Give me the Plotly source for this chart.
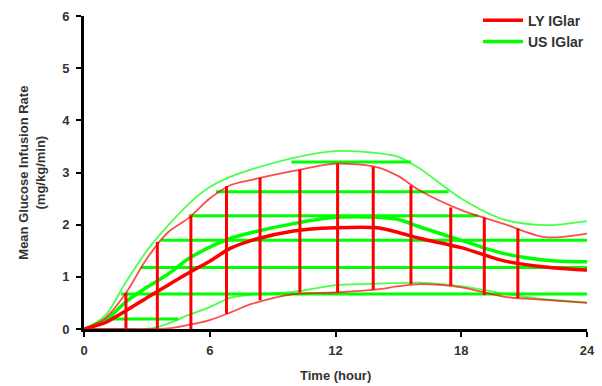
import plotly.graph_objects as go

# ---- data (hours, mg/kg/min) ----
times = [0, 1, 2, 3, 4, 5, 6, 7, 8, 10, 12, 14, 15, 16, 18, 20, 22, 24]

ly_mean  = [0, 0.12, 0.35, 0.60, 0.84, 1.08, 1.30, 1.55, 1.70, 1.88, 1.94, 1.94, 1.85, 1.74, 1.56, 1.31, 1.19, 1.13]
ly_upper = [0, 0.20, 0.69, 1.35, 1.85, 2.13, 2.50, 2.76, 2.86, 3.03, 3.17, 3.10, 2.93, 2.66, 2.28, 2.02, 1.76, 1.83]
ly_lower = [0, 0.00, 0.00, 0.00, 0.01, 0.08, 0.17, 0.32, 0.48, 0.67, 0.70, 0.76, 0.82, 0.86, 0.80, 0.62, 0.56, 0.50]

us_mean  = [0, 0.16, 0.52, 0.80, 1.05, 1.35, 1.57, 1.74, 1.85, 2.02, 2.14, 2.14, 2.10, 1.96, 1.70, 1.45, 1.32, 1.29]
us_upper = [0, 0.25, 0.90, 1.50, 1.98, 2.40, 2.72, 2.92, 3.06, 3.28, 3.41, 3.37, 3.30, 3.08, 2.50, 2.10, 1.99, 2.07]
us_lower = [0, 0.00, 0.00, 0.00, 0.10, 0.27, 0.42, 0.60, 0.66, 0.71, 0.84, 0.87, 0.88, 0.89, 0.82, 0.68, 0.57, 0.51]

# red vertical hatch lines (LY IGlar band)
ly_hatch_t  = [2.0, 3.5, 5.1, 6.8, 8.4, 10.3, 12.1, 13.8, 15.6, 17.5, 19.1, 20.7]
ly_hatch_lo = [0, 0, 0, 0.29, 0.55, 0.70, 0.70, 0.75, 0.86, 0.83, 0.65, 0.59]
ly_hatch_hi = [0.69, 1.67, 2.17, 2.74, 2.90, 3.06, 3.17, 3.11, 2.75, 2.33, 2.14, 1.93]

# green horizontal hatch lines (US IGlar band)
us_hatch_y     = [0.19, 0.67, 1.18, 1.70, 2.17, 2.63, 3.20]
us_hatch_start = [1.1, 1.77, 2.7, 3.7, 5.0, 6.3, 9.9]
us_hatch_end   = [4.5, 24, 24, 24, 18.8, 17.4, 15.6]

x_ticks = [0, 6, 12, 18, 24]
y_ticks = [0, 1, 2, 3, 4, 5, 6]

RED = "#FF0000"
GREEN = "#00FF00"
FONT = "Arial, Liberation Sans, sans-serif"
TXT = "#333333"

fig = go.Figure()

# green band
for arr in (us_upper, us_lower):
    fig.add_trace(go.Scatter(x=times, y=arr, mode="lines", showlegend=False, hoverinfo="skip",
                             line=dict(color=GREEN, width=1.8, shape="spline", smoothing=0.8), opacity=0.7))
hx, hy = [], []
for yv, s, e in zip(us_hatch_y, us_hatch_start, us_hatch_end):
    hx += [s, e, None]
    hy += [yv, yv, None]
fig.add_trace(go.Scatter(x=hx, y=hy, mode="lines", showlegend=False, hoverinfo="skip",
                         line=dict(color=GREEN, width=3)))
fig.add_trace(go.Scatter(x=times, y=us_mean, mode="lines", name="US IGlar", legendrank=2,
                         line=dict(color=GREEN, width=3.5, shape="spline", smoothing=0.8)))

# red band
for arr in (ly_upper, ly_lower):
    fig.add_trace(go.Scatter(x=times, y=arr, mode="lines", showlegend=False, hoverinfo="skip",
                             line=dict(color=RED, width=1.8, shape="spline", smoothing=0.8), opacity=0.7))
vx, vy = [], []
for t, lo, hi in zip(ly_hatch_t, ly_hatch_lo, ly_hatch_hi):
    vx += [t, t, None]
    vy += [lo, hi, None]
fig.add_trace(go.Scatter(x=vx, y=vy, mode="lines", showlegend=False, hoverinfo="skip",
                         line=dict(color=RED, width=3)))
fig.add_trace(go.Scatter(x=times, y=ly_mean, mode="lines", name="LY IGlar", legendrank=1,
                         line=dict(color=RED, width=3.5, shape="spline", smoothing=0.8)))

axis_common = dict(showline=True, linecolor="black", linewidth=3, ticks="outside",
                   ticklen=5, tickwidth=2, tickcolor="black", showgrid=False, zeroline=False,
                   automargin=False,
                   tickfont=dict(family=FONT, size=13, color=TXT, weight="bold"))
fig.update_xaxes(range=[0, 24], tickvals=x_ticks, ticklabelstandoff=2, **axis_common)
fig.update_yaxes(range=[0, 6], tickvals=y_ticks, ticklabelstandoff=4, **axis_common)

fig.update_layout(
    width=602, height=386,
    margin=dict(l=84, r=15, t=16, b=57, autoexpand=False),
    plot_bgcolor="white", paper_bgcolor="white",
    legend=dict(x=1.004, xanchor="right", y=1.036, yanchor="top", itemwidth=40,
                font=dict(family=FONT, size=14, color=TXT, weight="bold"),
                bgcolor="rgba(0,0,0,0)", tracegroupgap=0),
    annotations=[
        dict(text="Time (hour)", xref="paper", yref="paper", x=0.5, y=-0.15,
             xanchor="center", yanchor="middle", showarrow=False,
             font=dict(family=FONT, size=13, color=TXT, weight="bold")),
        dict(text="Mean Glucose Infusion Rate<br>(mg/kg/min)", xref="paper", yref="paper",
             x=-0.105, y=0.5, xanchor="center", yanchor="middle", textangle=-90, showarrow=False,
             font=dict(family=FONT, size=13, color=TXT, weight="bold")),
    ],
)

fig.write_html("out.html", config={"displayModeBar": False},
               post_script="document.body.style.margin='0';document.body.style.overflow='hidden';")
